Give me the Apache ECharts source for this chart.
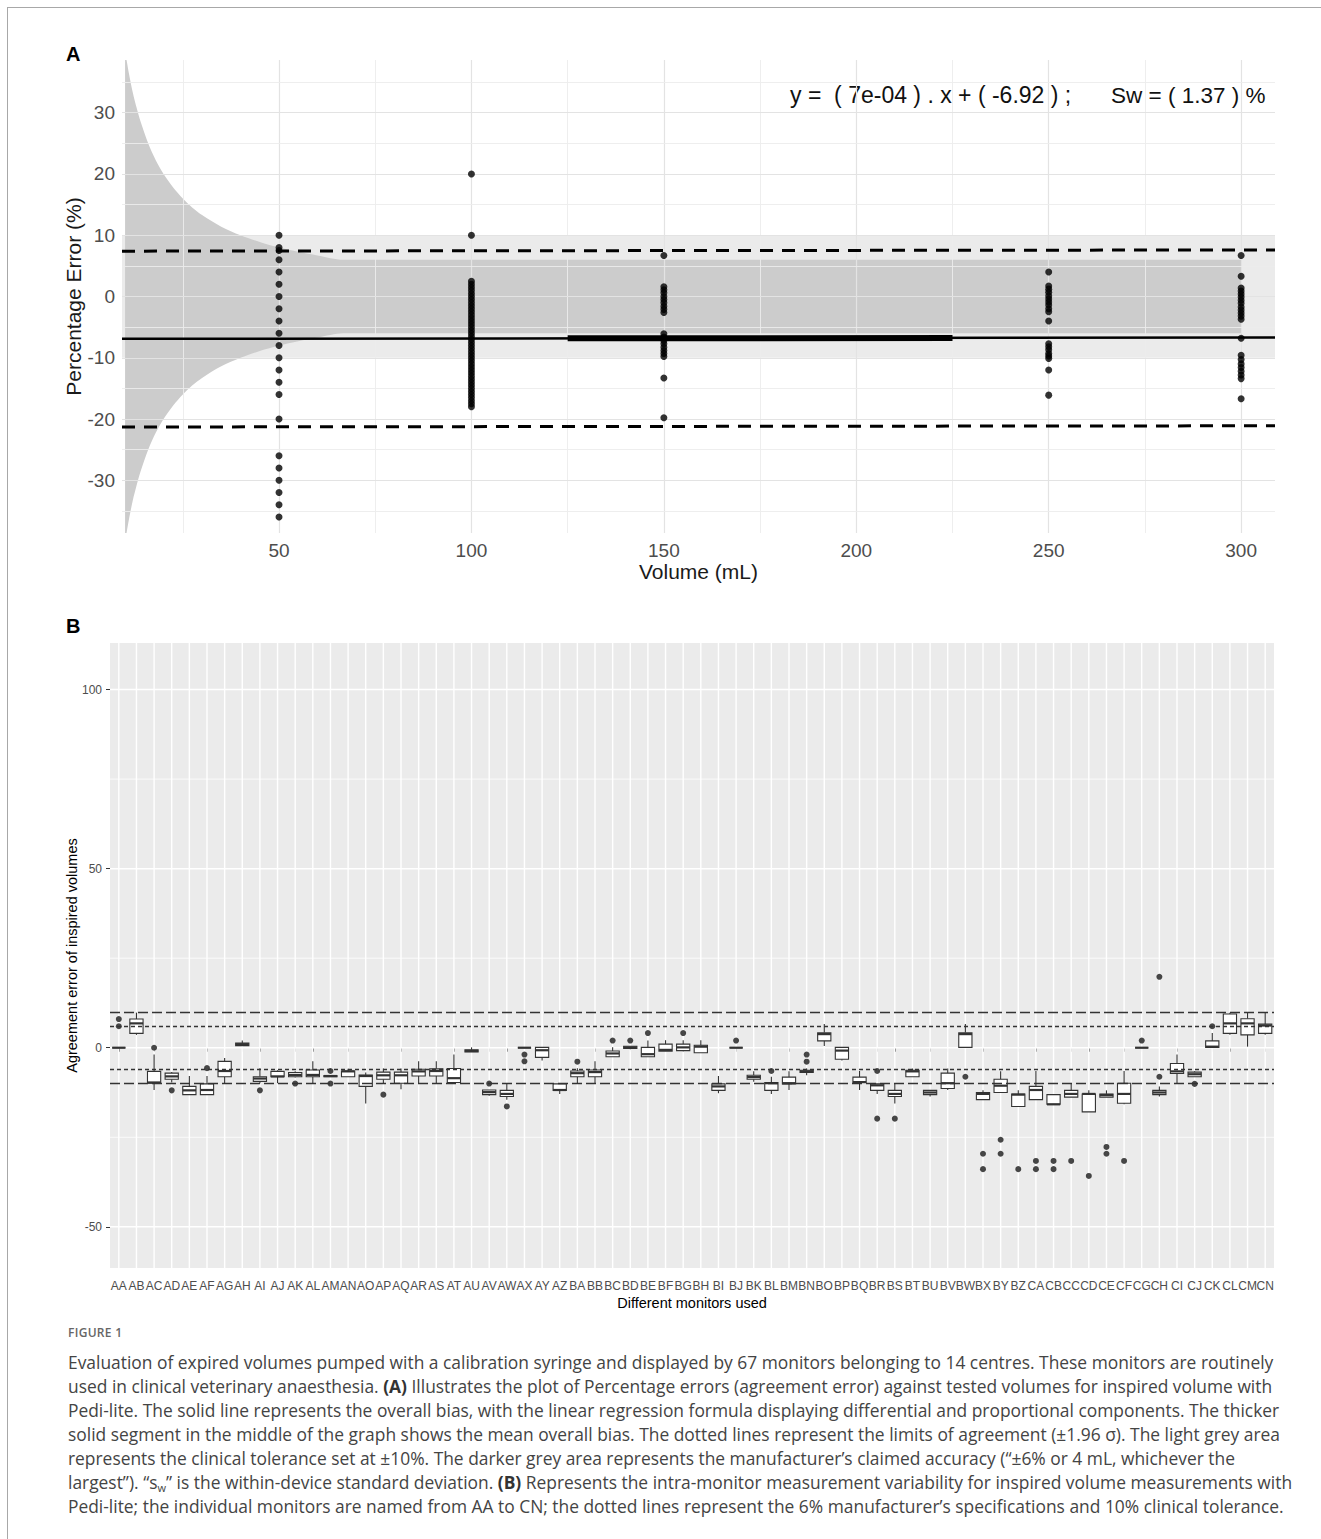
<!DOCTYPE html>
<html>
<head>
<meta charset="utf-8">
<script src="https://cdn.jsdelivr.net/npm/echarts@6/dist/echarts.min.js"></script>
<style>
html,body{margin:0;padding:0;background:#fff;}
#page{position:relative;width:1321px;height:1539px;overflow:hidden;background:#fff;}
#frame{position:absolute;left:7px;top:7px;width:1330px;height:1550px;border-top:1px solid #a8a8a8;border-left:1px solid #a8a8a8;}
#chart{position:absolute;left:0;top:0;width:1321px;height:1320px;}
#caption{position:absolute;left:68px;top:1324px;width:1250px;font-family:'Open Sans','Noto Sans',sans-serif;color:#444;}
#caption .fig{font-size:12px;letter-spacing:0.3px;line-height:18px;color:#666;font-weight:600;}
#caption .txt{font-size:17.4px;line-height:24px;white-space:nowrap;margin-top:8px;}
#caption sub{font-size:11px;line-height:0;vertical-align:-3px;}
#caption b{font-weight:700;color:#333;}
</style>
</head>
<body>
<div id="page">
  <div id="frame"></div>
  <div id="chart"></div>
  <div id="caption">
    <div class="fig">FIGURE 1</div>
    <div class="txt">
      Evaluation of expired volumes pumped with a calibration syringe and displayed by 67 monitors belonging to 14 centres. These monitors are routinely<br>
      used in clinical veterinary anaesthesia. <b>(A)</b> Illustrates the plot of Percentage errors (agreement error) against tested volumes for inspired volume with<br>
      Pedi-lite. The solid line represents the overall bias, with the linear regression formula displaying differential and proportional components. The thicker<br>
      solid segment in the middle of the graph shows the mean overall bias. The dotted lines represent the limits of agreement (±1.96 σ). The light grey area<br>
      represents the clinical tolerance set at ±10%. The darker grey area represents the manufacturer’s claimed accuracy (“±6% or 4 mL, whichever the<br>
      largest”). “s<sub>w</sub>” is the within-device standard deviation. <b>(B)</b> Represents the intra-monitor measurement variability for inspired volume measurements with<br>
      Pedi-lite; the individual monitors are named from AA to CN; the dotted lines represent the 6% manufacturer’s specifications and 10% clinical tolerance.
    </div>
  </div>
</div>
<script>
// ---------------- Panel A data ----------------
const pe50  = [10, 8, 7.5, 6, 4, 2, 0, -2, -4, -6, -8, -10, -12, -14, -16, -20, -26, -28, -30, -32, -34, -36];
const pe100 = [20, 10, 2.5, 2, 1.5, 1, 0.5, 0, -0.5, -1, -1.5, -2, -2.5, -3, -3.5, -4, -4.5, -5, -5.5, -6, -6.5, -7, -7.5, -8, -8.5, -9, -9.5, -10, -10.5, -11, -11.5, -12, -12.5, -13, -13.5, -14, -14.5, -15, -15.5, -16, -16.5, -17, -17.5, -18];
const pe150 = [6.7, 1.6, 1.1, 0.6, 0, -0.5, -1.0, -1.6, -2.1, -2.6, -6.1, -6.6, -7.2, -7.7, -8.3, -8.8, -9.3, -9.8, -13.3, -19.8];
const pe250 = [4.0, 1.7, 1.2, 0.7, 0.1, -0.4, -0.9, -1.4, -2.0, -2.5, -4.0, -7.7, -8.2, -8.7, -9.3, -9.7, -10.1, -12.0, -16.1];
const pe300 = [6.7, 3.3, 1.4, 0.9, 0.4, -0.1, -0.6, -1.1, -1.7, -2.2, -2.7, -3.2, -3.7, -6.8, -9.6, -10.3, -11.0, -11.6, -12.2, -12.8, -13.4, -16.7];

const funnelVol  = [10, 11, 12, 13, 14, 16, 18, 20, 22.5, 25, 27.5, 30, 35, 40, 45, 50, 55, 60, 66.7, 300];
const funnelHalf = [40, 36.4, 33.3, 30.8, 28.6, 25, 22.2, 20, 17.8, 16, 14.5, 13.3, 11.4, 10, 8.9, 8, 7.3, 6.7, 6, 6];
const clinicalTol = 10;

const lineX      = [9.2, 308.8];
const loaUpper   = [7.4, 7.6];
const loaLower   = [-21.3, -21.1];
const biasLine   = [-6.91, -6.70];
const thickX     = [125, 225];
const thickY     = [-6.83, -6.76];

const xTicksA = [50, 100, 150, 200, 250, 300];
const yTicksA = [-30, -20, -10, 0, 10, 20, 30];
const gridXA  = [25, 50, 75, 100, 125, 150, 175, 200, 225, 250, 275, 300];
const gridYA  = [-35, -30, -25, -20, -15, -10, -5, 0, 5, 10, 15, 20, 25, 30, 35];

// ---------------- Panel B data ----------------
const monitors = ['AA','AB','AC','AD','AE','AF','AG','AH','AI','AJ','AK','AL','AM','AN','AO','AP','AQ','AR','AS','AT','AU','AV','AW','AX','AY','AZ',
                  'BA','BB','BC','BD','BE','BF','BG','BH','BI','BJ','BK','BL','BM','BN','BO','BP','BQ','BR','BS','BT','BU','BV','BW','BX','BY','BZ',
                  'CA','CB','CC','CD','CE','CF','CG','CH','CI','CJ','CK','CL','CM','CN'];
const whiskerLow  = [0, 3.6, -11.8, -9.7, -13.1, -13.1, -9.9, 0.6, -9.9, -9.9, -8.3, -9.9, -8.1, -8.1, -15.6, -9.9, -11.6, -9.9, -9.9, -10.1, -1.2, -13.4, -14.5, 0, -3.6, -12.9,
                     -9.9, -9.9, -2.5, -0.4, -2.5, -1.0, -1.0, -1.4, -12.7, 0, -9.5, -12.9, -11.8, -7.7, 0.5, -3.6, -11.8, -12.9, -15.6, -8.1, -13.6, -11.8, 0.1, -14.5, -12.5, -16.4,
                     -14.5, -15.8, -13.8, -17.9, -13.8, -15.8, 0, -13.6, -10.1, -8.1, 0.1, 3.6, 0.3, 3.6];
const boxQ1       = [0, 4.0, -9.9, -8.8, -13.1, -13.1, -8.1, 0.6, -9.4, -8.1, -8.1, -8.1, -8.1, -8.1, -10.8, -8.8, -9.9, -7.9, -7.9, -9.7, -1.2, -13.1, -13.6, 0, -2.7, -11.9,
                     -8.1, -8.1, -2.5, -0.2, -2.5, -1.0, -0.8, -1.4, -11.9, 0, -8.8, -11.9, -10.1, -6.9, 1.9, -3.2, -9.7, -11.9, -13.6, -8.1, -13.1, -11.4, 0.1, -14.5, -12.5, -16.4,
                     -14.5, -15.8, -13.8, -17.9, -13.8, -15.5, 0, -13.1, -7.2, -8.1, 0.1, 4.0, 3.6, 4.0];
const boxMedian   = [0, 6.8, -9.7, -8.0, -11.9, -11.8, -6.5, 1.0, -8.6, -8.0, -7.6, -7.6, -7.9, -6.6, -7.9, -7.7, -7.7, -6.6, -6.5, -8.5, -0.9, -12.4, -12.9, 0, -0.7, -11.8,
                     -7.1, -6.8, -1.6, 0.1, -1.8, -0.6, 0.1, 0.3, -10.8, 0, -8.2, -9.9, -9.9, -6.6, 3.8, -0.8, -9.6, -10.5, -12.9, -6.6, -12.5, -9.9, 3.8, -12.9, -10.6, -13.1,
                     -11.8, -15.8, -12.9, -12.9, -13.2, -12.9, 0, -12.5, -6.6, -7.4, 0.3, 6.8, 6.8, 6.2];
const boxQ3       = [0, 8.0, -6.6, -7.1, -10.8, -10.1, -3.8, 1.3, -8.1, -6.6, -6.9, -6.2, -7.8, -6.5, -7.6, -6.8, -6.8, -6.0, -5.9, -5.8, -0.6, -11.8, -11.9, 0, 0.1, -10.1,
                     -6.5, -6.2, -0.9, 0.4, 0.1, 1.0, 1.0, 0.7, -10.1, 0, -7.7, -9.7, -8.2, -6.3, 4.2, 0.1, -8.2, -10.1, -11.9, -6.3, -11.9, -7.1, 4.2, -12.5, -8.8, -12.9,
                     -10.8, -13.1, -11.9, -12.9, -12.9, -9.9, 0, -11.9, -4.4, -6.8, 1.9, 9.4, 8.1, 6.6];
const whiskerHigh = [0, 9.8, -1.9, -6.8, -7.9, -7.9, -2.9, 2.0, -5.7, -6.3, -6.6, -3.8, -7.8, -5.9, -6.9, -5.8, -5.8, -3.8, -3.8, -1.9, 0.1, -11.8, -10.0, 0, 0.1, -10.1,
                     -5.7, -3.8, 0.1, 0.4, 2.0, 2.1, 2.1, 2.1, -7.9, 0, -6.6, -8.1, -6.6, -5.8, 6.6, 0.1, -6.5, -10.1, -10.1, -5.8, -11.9, -5.8, 6.6, -11.9, -6.6, -11.9,
                     -6.5, -13.1, -10.1, -11.9, -11.9, -6.5, 0, -10.8, -1.9, -6.6, 4.1, 9.8, 9.8, 9.8];
const outlierMonitor = ['AA','AA','AC','AD','AF','AI','AK','AM','AM','AP','AV','AW','AX','AX','BA','BC','BD','BE','BG','BJ','BL','BN','BN','BR','BR','BS','BW',
                        'BX','BX','BY','BY','BZ','CA','CA','CB','CB','CC','CD','CE','CE','CF','CG','CH','CH','CJ','CK'];
const outlierValue   = [8, 6, 0, -11.9, -5.7, -11.9, -10, -6.5, -10, -13.1, -10, -16.4, -1.9, -3.8, -3.9, 2.0, 2.0, 4.1, 4.1, 2.0, -6.5, -1.9, -3.9, -6.5, -19.8, -19.8, -8.1,
                        -29.6, -33.9, -25.7, -29.6, -33.9, -31.6, -33.9, -31.6, -33.9, -31.6, -35.8, -27.7, -29.6, -31.6, 2.0, -8.1, 19.8, -10.1, 6.0];
const yTicksB      = [-50, 0, 50, 100];
const yMinorB      = [-25, 25, 75];
const toleranceB   = [10, -10];
const manufSpecB   = [6, -6];

// ---------------- Chart ----------------
const FONT = "'Liberation Sans', Arial, sans-serif";
const chart = echarts.init(document.getElementById('chart'), null, {renderer: 'svg', width: 1321, height: 1320});

const ptsA = [].concat(
  pe50.map(v => [50, v]), pe100.map(v => [100, v]), pe150.map(v => [150, v]),
  pe250.map(v => [250, v]), pe300.map(v => [300, v]));

const markLineBase = {silent: true, symbol: ['none', 'none'], label: {show: false}, animation: false};

// horizontal gridlines in panel B (major first, then minor)
const gridYB = yTicksB.concat(yMinorB);

const option = {
  animation: false,
  grid: [
    {left: 122, top: 60, width: 1153, height: 473},
    {left: 110, top: 643, width: 1164, height: 625, show: true, backgroundColor: '#ebebeb', borderWidth: 0}
  ],
  xAxis: [
    {type: 'value', gridIndex: 0, min: 9.2, max: 308.8,
     axisLine: {show: false}, axisTick: {show: false}, splitLine: {show: false},
     axisLabel: {customValues: xTicksA, fontSize: 19, color: '#4d4d4d', fontFamily: FONT, margin: 8},
     name: 'Volume (mL)', nameLocation: 'middle', nameGap: 28, nameMoveOverlap: false,
     nameTextStyle: {fontSize: 21, color: '#1a1a1a', fontFamily: FONT}},
    {type: 'category', gridIndex: 1, data: monitors, boundaryGap: true,
     axisLine: {show: false},
     axisTick: {show: true, alignWithLabel: true, length: 4, lineStyle: {color: '#333', width: 1}},
     axisLabel: {interval: 0, fontSize: 12, color: '#4d4d4d', fontFamily: FONT, margin: 12},
     splitLine: {show: false},
     name: 'Different monitors used', nameLocation: 'middle', nameGap: 27, nameMoveOverlap: false,
     nameTextStyle: {fontSize: 14.5, color: '#000', fontFamily: FONT}}
  ],
  yAxis: [
    {type: 'value', gridIndex: 0, min: -38.6, max: 38.6,
     axisLine: {show: false}, axisTick: {show: false}, splitLine: {show: false},
     axisLabel: {customValues: yTicksA, fontSize: 19, color: '#4d4d4d', fontFamily: FONT, margin: 7},
     name: 'Percentage Error (%)', nameLocation: 'middle', nameGap: 38, nameMoveOverlap: false,
     nameTextStyle: {fontSize: 21, color: '#1a1a1a', fontFamily: FONT}},
    {type: 'value', gridIndex: 1, min: -61.5, max: 113,
     axisLine: {show: false},
     axisTick: {show: true, customValues: yTicksB, length: 4, lineStyle: {color: '#333', width: 1}},
     splitLine: {show: false},
     axisLabel: {customValues: yTicksB, fontSize: 12, color: '#4d4d4d', fontFamily: FONT, margin: 8},
     name: 'Agreement error of inspired volumes', nameLocation: 'middle', nameGap: 31, nameMoveOverlap: false,
     nameTextStyle: {fontSize: 14.5, color: '#000', fontFamily: FONT}}
  ],
  graphic: [
    {type: 'text', x: 66, y: 44, style: {text: 'A', fontSize: 20, fontWeight: 'bold', fontFamily: FONT, fill: '#000'}},
    {type: 'text', x: 66, y: 616, style: {text: 'B', fontSize: 20, fontWeight: 'bold', fontFamily: FONT, fill: '#000'}},
    {type: 'text', x: 790, y: 95, style: {text: 'y\u00a0=\u00a0\u00a0(\u00a07e-04\u00a0)\u00a0.\u00a0x\u00a0+\u00a0(\u00a0-6.92\u00a0)\u00a0;', fontSize: 23, fontFamily: FONT, fill: '#111', verticalAlign: 'middle'}},
    {type: 'text', x: 1111, y: 95, style: {text: 'Sw\u00a0=\u00a0(\u00a01.37\u00a0)\u00a0%', fontSize: 22.5, fontFamily: FONT, fill: '#111', verticalAlign: 'middle'}}
  ],
  series: [
    // ---- Panel A ----
    {type: 'line', xAxisIndex: 0, yAxisIndex: 0, data: [], z: 1, silent: true,
     markArea: {silent: true, itemStyle: {color: '#ebebeb'}, data: [[{yAxis: -clinicalTol}, {yAxis: clinicalTol}]]}},
    {type: 'line', xAxisIndex: 0, yAxisIndex: 0, z: 2, silent: true, symbol: 'none', smooth: 0.3,
     lineStyle: {width: 0}, areaStyle: {color: '#cccccc', opacity: 1},
     data: funnelVol.map((v, i) => [v, funnelHalf[i]])},
    {type: 'line', xAxisIndex: 0, yAxisIndex: 0, z: 2, silent: true, symbol: 'none', smooth: 0.3,
     lineStyle: {width: 0}, areaStyle: {color: '#cccccc', opacity: 1},
     data: funnelVol.map((v, i) => [v, -funnelHalf[i]])},
    {type: 'line', xAxisIndex: 0, yAxisIndex: 0, data: [], z: 3, silent: true,
     markLine: Object.assign({}, markLineBase, {
       lineStyle: {type: 'solid', color: '#e6e6e6', width: 1},
       data: gridXA.map(v => ({xAxis: v, lineStyle: {type: 'solid', color: v % 50 === 0 ? '#e3e3e3' : '#ececec', width: v % 50 === 0 ? 1.2 : 0.9}}))
         .concat(gridYA.map(v => ({yAxis: v, lineStyle: {type: 'solid', color: v % 10 === 0 ? '#e3e3e3' : '#ececec', width: v % 10 === 0 ? 1.2 : 0.9}})))
     })},
    {type: 'line', xAxisIndex: 0, yAxisIndex: 0, z: 6, silent: true, symbol: 'none',
     lineStyle: {type: [13, 9], width: 3, color: '#000'}, data: lineX.map((x, i) => [x, loaUpper[i]])},
    {type: 'line', xAxisIndex: 0, yAxisIndex: 0, z: 6, silent: true, symbol: 'none',
     lineStyle: {type: [13, 9], width: 3, color: '#000'}, data: lineX.map((x, i) => [x, loaLower[i]])},
    {type: 'line', xAxisIndex: 0, yAxisIndex: 0, z: 7, silent: true, symbol: 'none',
     lineStyle: {width: 2.5, color: '#000'}, data: lineX.map((x, i) => [x, biasLine[i]])},
    {type: 'line', xAxisIndex: 0, yAxisIndex: 0, z: 7, silent: true, symbol: 'none',
     lineStyle: {width: 6, color: '#000', cap: 'butt'}, data: thickX.map((x, i) => [x, thickY[i]])},
    {type: 'scatter', xAxisIndex: 0, yAxisIndex: 0, z: 8, silent: true, symbolSize: 7,
     itemStyle: {color: '#000'}, data: ptsA},
    // ---- Panel B ----
    {type: 'custom', xAxisIndex: 1, yAxisIndex: 1, z: 1, silent: true,
     encode: {x: 0, y: 1},
     data: monitors.map((m, i) => [i, 0]),
     renderItem: function (params, api) {
       const cs = params.coordSys;
       const x = api.coord([api.value(0), 0])[0];
       return {type: 'line', shape: {x1: x, y1: cs.y, x2: x, y2: cs.y + cs.height},
               style: {stroke: '#ffffff', lineWidth: 1.4}};
     }},
    {type: 'custom', xAxisIndex: 1, yAxisIndex: 1, z: 1, silent: true,
     encode: {x: 0, y: 1},
     data: gridYB.map(v => [0, v]),
     renderItem: function (params, api) {
       const cs = params.coordSys;
       const y = api.coord([0, api.value(1)])[1];
       const major = params.dataIndex < yTicksB.length;
       return {type: 'line', shape: {x1: cs.x, y1: y, x2: cs.x + cs.width, y2: y},
               style: {stroke: '#ffffff', lineWidth: major ? 1.5 : 0.8}};
     }},
    {type: 'custom', xAxisIndex: 1, yAxisIndex: 1, z: 3, silent: true,
     encode: {x: 0, y: [1, 2, 3, 4, 5]},
     data: monitors.map((m, i) => [i, whiskerLow[i], boxQ1[i], boxMedian[i], boxQ3[i], whiskerHigh[i]]),
     renderItem: function (params, api) {
       const i = api.value(0);
       const lo = api.coord([i, api.value(1)]);
       const q1 = api.coord([i, api.value(2)]);
       const md = api.coord([i, api.value(3)]);
       const q3 = api.coord([i, api.value(4)]);
       const hi = api.coord([i, api.value(5)]);
       const w = api.size([1, 0])[0] * 0.75;
       const cx = lo[0];
       const st = {stroke: '#333', lineWidth: 1.1, fill: null};
       return {type: 'group', children: [
         {type: 'line', shape: {x1: cx, y1: hi[1], x2: cx, y2: q3[1]}, style: st},
         {type: 'line', shape: {x1: cx, y1: q1[1], x2: cx, y2: lo[1]}, style: st},
         {type: 'rect', shape: {x: cx - w / 2, y: q3[1], width: w, height: Math.max(q1[1] - q3[1], 0)},
          style: {stroke: '#333', lineWidth: 1.1, fill: '#fff'}},
         {type: 'line', shape: {x1: cx - w / 2, y1: md[1], x2: cx + w / 2, y2: md[1]}, style: {stroke: '#333', lineWidth: 2.2}}
       ]};
     }},
    {type: 'scatter', xAxisIndex: 1, yAxisIndex: 1, z: 4, silent: true, symbolSize: 6,
     itemStyle: {color: '#1a1a1a'}, data: outlierMonitor.map((m, i) => [m, outlierValue[i]])},
    {type: 'line', xAxisIndex: 1, yAxisIndex: 1, data: [], z: 5, silent: true,
     markLine: Object.assign({}, markLineBase, {
       lineStyle: {type: 'dashed', color: '#333', width: 1.3},
       data: toleranceB.map(v => ({yAxis: v, lineStyle: {type: [10, 4], color: '#333', width: 1.3}}))
         .concat(manufSpecB.map(v => ({yAxis: v, lineStyle: {type: [4, 3], color: '#333', width: 1.3}})))
     })}
  ]
};
chart.setOption(option);
</script>
</body>
</html>
